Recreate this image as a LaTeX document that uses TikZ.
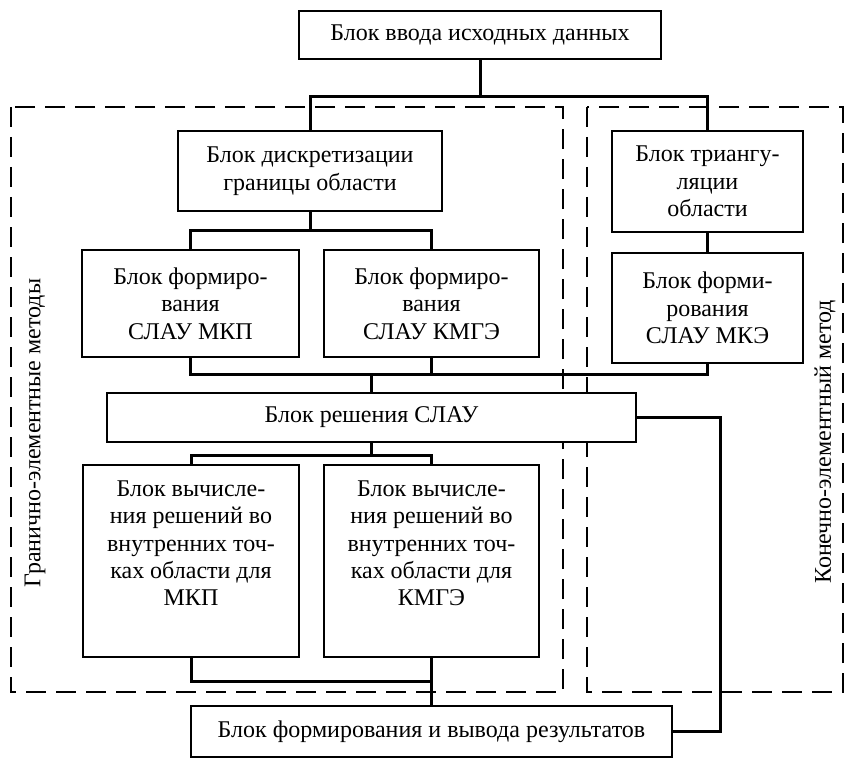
\documentclass[tikz,border=0pt]{standalone}
\usepackage{fontspec}
\setmainfont{Liberation Serif}
\begin{document}
\begin{tikzpicture}[x=0.5pt,y=-0.5pt,
  blk/.style={draw, line width=1.3pt, fill=white, inner sep=0pt, align=center,
    font=\fontsize{12}{13.7}\selectfont},
  conn/.style={line width=1.5pt},
  grp/.style={line width=1.3pt, dash pattern=on 10pt off 5pt},
  side/.style={font=\fontsize{12}{13.7}\selectfont, rotate=90, inner sep=0pt}]
\useasboundingbox (0,0) rectangle (850,759);
% dashed groups
\draw[grp] (11,107) rectangle (563,692);
\draw[grp] (587,107) rectangle (843,692);
% blocks
\node[blk, minimum width=181pt, minimum height=24pt] (top) at (480,35) {Блок ввода исходных данных};
\node[blk, minimum width=132pt, minimum height=40pt] (discr) at (310,171) {Блок дискретизации\\границы области};
\node[blk, minimum width=95.5pt, minimum height=50.5pt] (triang) at (707.5,181.5) {Блок триангу-\\ляции\\области};
\node[blk, minimum width=108.5pt, minimum height=53.5pt] (formA) at (190.5,303.5) {Блок формиро-\\вания\\СЛАУ МКП};
\node[blk, minimum width=107.5pt, minimum height=53.5pt] (formB) at (431.5,303.5) {Блок формиро-\\вания\\СЛАУ КМГЭ};
\node[blk, minimum width=95.5pt, minimum height=55pt] (mke) at (707.5,308) {Блок форми-\\рования\\СЛАУ МКЭ};
\node[blk, minimum width=264.5pt, minimum height=24.5pt] (slau) at (371.5,417.5) {Блок решения СЛАУ};
\node[blk, minimum width=108pt, minimum height=96pt] (calcA) at (191,561) {Блок вычисле-\\ния решений во\\внутренних точ-\\ках области для\\МКП\\ \strut};
\node[blk, minimum width=107.5pt, minimum height=96pt] (calcB) at (431.5,561) {Блок вычисле-\\ния решений во\\внутренних точ-\\ках области для\\КМГЭ\\ \strut};
\node[blk, minimum width=240.5pt, minimum height=25.5pt] (res) at (431.5,731.5) {Блок формирования и вывода результатов};
% side labels
\node[side] (lblL) at (35,433) {Гранично-элементные методы};
\node[side] (lblR) at (825,442) {Конечно-элементный метод};
% connectors
\draw[conn] (top.south) -- (top.south |- 0,97);
\draw[conn] (discr.north) |- (triang.north |- 0,97) -- (triang.north);
\draw[conn] (discr.south) -- (discr.south |- 0,230);
\draw[conn] (formA.north) |- (formB.north |- 0,230) -- (formB.north);
\draw[conn] (triang.south) -- (mke.north);
\draw[conn] (formA.south) |- (mke.south |- 0,374) -- (mke.south);
\draw[conn] (formB.south) -- (formB.south |- 0,374);
\draw[conn] (slau.north) -- (slau.north |- 0,374);
\draw[conn] (slau.south) -- (slau.south |- 0,455);
\draw[conn] (calcA.north) |- (calcB.north |- 0,455) -- (calcB.north);
\draw[conn] (calcA.south) |- (calcB.south |- 0,681);
\draw[conn] (calcB.south) -- (res.north);
\coordinate (sideR) at (720,417.5);
\draw[conn] (slau.east) -- (sideR) |- (res.east);
\end{tikzpicture}
\end{document}
